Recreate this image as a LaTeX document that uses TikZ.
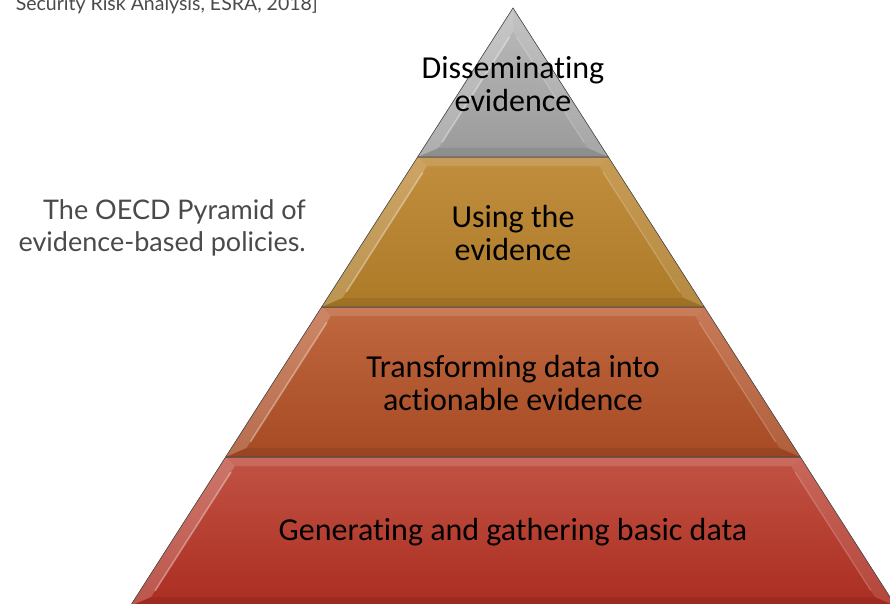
\documentclass[tikz,border=0pt]{standalone}
\usepackage{fontspec}
\setmainfont{Carlito}[Ligatures=NoCommon]
\newfontfamily\notefont{Lato}
\usetikzlibrary{calc}

\definecolor{greyTop}{HTML}{BBBBBB}
\definecolor{greyBot}{HTML}{9A9A9A}
\definecolor{goldTop}{HTML}{C18E3E}
\definecolor{goldBot}{HTML}{AC7A27}
\definecolor{rustTop}{HTML}{C06840}
\definecolor{rustBot}{HTML}{A64A23}
\definecolor{redTop}{HTML}{C15344}
\definecolor{redBot}{HTML}{AB2D21}
\definecolor{noteGrey}{HTML}{4A4A4A}

% one bevelled slice of the pyramid: top y, bottom y, light colour, dark colour
\newcommand{\pyrtier}[4]{%
  \pgfmathsetmacro\tl{513-0.64*(#1-8)}
  \pgfmathsetmacro\tr{513+0.64*(#1-8)}
  \pgfmathsetmacro\bl{513-0.64*(#2-8)}
  \pgfmathsetmacro\br{513+0.64*(#2-8)}
  \pgfmathsetmacro\ia{max(#1+9,8+15/0.64)}
  \pgfmathsetmacro\ib{#2-9}
  \pgfmathsetmacro\itl{513-max(0,0.64*(\ia-8)-15)}
  \pgfmathsetmacro\itr{513+max(0,0.64*(\ia-8)-15)}
  \pgfmathsetmacro\ibl{513-(0.64*(\ib-8)-15)}
  \pgfmathsetmacro\ibr{513+(0.64*(\ib-8)-15)}
  \fill[top color=#3, bottom color=#4]
    (\tl,#1) -- (\tr,#1) -- (\br,#2) -- (\bl,#2) -- cycle;
  % bevel facets
  \fill[white, opacity=0.20] (\bl,#2) -- (\tl,#1) -- (\itl,\ia) -- (\ibl,\ib) -- cycle;
  \fill[white, opacity=0.12] (\br,#2) -- (\tr,#1) -- (\itr,\ia) -- (\ibr,\ib) -- cycle;
  \fill[white, opacity=0.14] (\tl,#1) -- (\tr,#1) -- (\itr,\ia) -- (\itl,\ia) -- cycle;
  \fill[black, opacity=0.08] (\bl,#2) -- (\br,#2) -- (\ibr,\ib) -- (\ibl,\ib) -- cycle;
  \draw[white, opacity=0.35, line width=1.6pt, line cap=round]
    ($(\itl,\ia)!0.05!(\ibl,\ib)$) -- ($(\itl,\ia)!0.95!(\ibl,\ib)$);
  \draw[white, opacity=0.2, line width=1.2pt, line cap=round]
    ($(\itr,\ia)!0.05!(\ibr,\ib)$) -- ($(\itr,\ia)!0.95!(\ibr,\ib)$);
  \draw[black!70, line width=0.6pt]
    (\tl,#1) -- (\tr,#1) -- (\br,#2) -- (\bl,#2) -- cycle;
}

\begin{document}
\begin{tikzpicture}[x=1pt, y=-1pt,
  tiertext/.style={align=center, text=black, font=\fontsize{32}{33.5}\selectfont},
  notetext/.style={text=noteGrey, inner sep=0pt}]

\useasboundingbox (0,0) rectangle (890,604);
\begin{scope}
\clip (0,0) rectangle (890,604);

\pyrtier{457}{606}{redTop}{redBot}
\pyrtier{307}{457}{rustTop}{rustBot}
\pyrtier{157}{307}{goldTop}{goldBot}
\pyrtier{8}{157}{greyTop}{greyBot}

 \node[tiertext] (tier_4) at (513,84)
     {Disseminating\\evidence};

 \node[tiertext] (tier_3) at (513,233)
     {Using the\\evidence};

 \node[tiertext] (tier_2) at (513,383)
     {Transforming data into\\actionable evidence};

 \node[tiertext] (tier_1) at (513,532)
     {Generating and gathering basic data};

 \node[notetext, align=right, anchor=east,
       font=\notefont\fontsize{27}{32}\selectfont] (caption) at (306,228)
     {The OECD Pyramid of\\evidence-based policies.};

 \node[notetext, anchor=base east,
       font=\notefont\fontsize{19.5}{22}\selectfont] (source) at (318,11)
     {Security Risk Analysis, ESRA, 2018]};

\end{scope}
\end{tikzpicture}
\end{document}
